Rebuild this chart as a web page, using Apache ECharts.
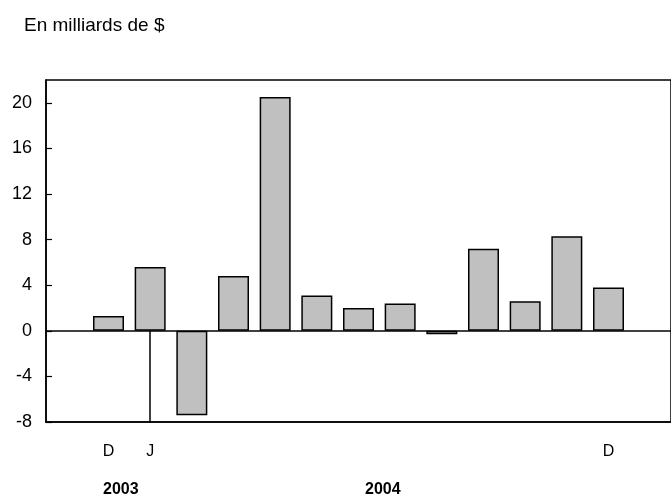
<!DOCTYPE html>
<html>
<head>
<meta charset="utf-8">
<script src="https://cdn.jsdelivr.net/npm/echarts@6/dist/echarts.min.js"></script>
<style>html,body{margin:0;padding:0;background:#fff;}#c{width:671px;height:497px;}</style>
</head>
<body>
<div id="c"></div>
<script>
var categories = ['', 'D', 'J', 'F', 'M', 'A', 'M', 'J', 'J', 'A', 'S', 'O', 'N', 'D', ''];
var tickLabels = ['', 'D', 'J', '', '', '', '', '', '', '', '', '', '', 'D', ''];
var values = [null, 1.3, 5.6, -7.4, 4.8, 20.5, 3.1, 2.0, 2.4, -0.3, 7.2, 2.6, 8.3, 3.8, null];
var yearLabels = ['2003', '2004'];
var titleText = 'En milliards de $';

var chart = echarts.init(document.getElementById('c'));
var FONT = 'Liberation Sans, Arial, Helvetica, sans-serif';
chart.setOption({
  animation: false,
  backgroundColor: '#fff',
  textStyle: { fontFamily: FONT },
  title: {
    text: titleText, left: 19, top: 11,
    textStyle: { fontFamily: FONT, fontSize: 19, fontWeight: 'normal', color: '#000' }
  },
  grid: { left: 46, top: 80, width: 634, height: 342, show: true, borderColor: '#000', borderWidth: 1.5, backgroundColor: 'transparent' },
  xAxis: {
    type: 'category', data: categories, boundaryGap: true,
    axisLine: { show: true, onZero: false, lineStyle: { color: '#000', width: 1.5 } },
    axisTick: { show: false },
    axisLabel: {
      interval: 0, margin: 22, color: '#000', fontSize: 16, fontFamily: FONT,
      formatter: function (v, i) { return tickLabels[i]; }
    },
    splitLine: { show: false }
  },
  yAxis: {
    type: 'value', min: -8, max: 22, interval: 4,
    axisLine: { show: true, lineStyle: { color: '#000', width: 1.5 } },
    axisTick: { show: true, inside: true, length: 6, lineStyle: { color: '#000', width: 1.2 } },
    axisLabel: { color: '#000', fontSize: 18, fontFamily: FONT, margin: 14, showMaxLabel: false,
      formatter: function (v) { return v % 4 === 0 ? String(v) : ''; } },
    splitLine: { show: false }
  },
  series: [{
    type: 'bar', data: values, barWidth: 31,
    itemStyle: { color: '#c0c0c0', borderColor: '#000', borderWidth: 1.5 },
    markLine: {
      silent: true, symbol: 'none', label: { show: false },
      lineStyle: { color: '#000', width: 1.5, type: 'solid' },
      data: [
        { yAxis: 0 },
        [{ coord: [2, 0] }, { coord: [2, -8] }]
      ]
    }
  }],
  graphic: [
    { type: 'text', left: 103, top: 482, style: { text: yearLabels[0], fontFamily: FONT, fontSize: 16, fontWeight: 'bold', fill: '#000' } },
    { type: 'text', left: 365, top: 482, style: { text: yearLabels[1], fontFamily: FONT, fontSize: 16, fontWeight: 'bold', fill: '#000' } }
  ]
});
</script>
</body>
</html>
